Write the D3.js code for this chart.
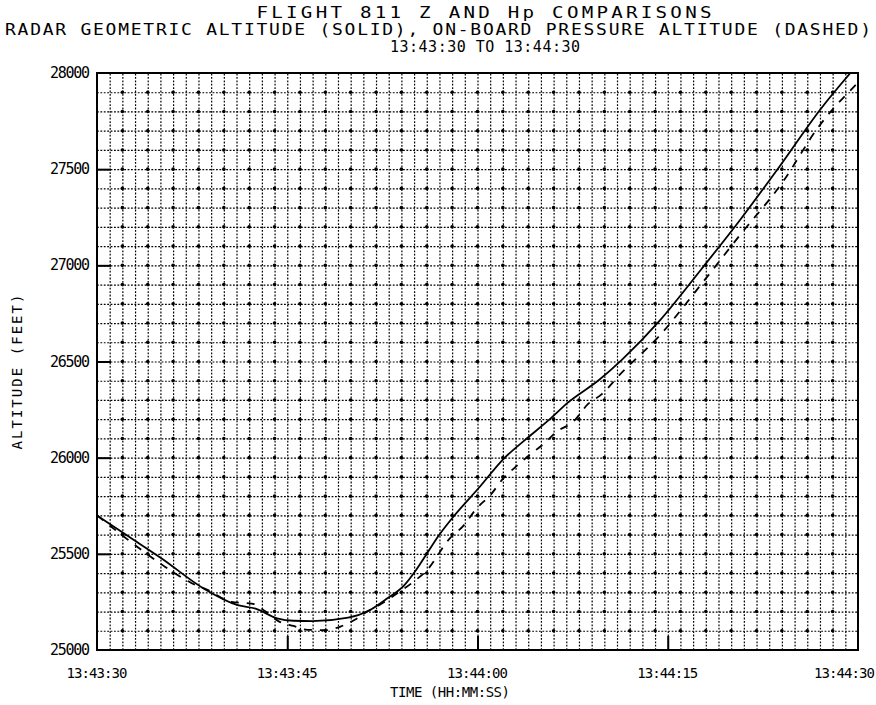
<!DOCTYPE html>
<html>
<head>
<meta charset="utf-8">
<script src="https://cdn.jsdelivr.net/npm/d3@7"></script>
<style>
  body { margin: 0; background: #fff; }
  svg text { font-family: 'DejaVu Sans Mono', 'Liberation Mono', monospace; fill: #000; }
</style>
</head>
<body>
<div id="chart"></div>
<script>
'use strict'

const titleLines = [
  'FLIGHT 811 Z AND Hp COMPARISONS',
  'RADAR GEOMETRIC ALTITUDE (SOLID), ON-BOARD PRESSURE ALTITUDE (DASHED)',
  '13:43:30 TO 13:44:30'
]

// seconds after 13:43:30
const timeTicks = [0, 15, 30, 45, 60]
const timeLabels = ['13:43:30', '13:43:45', '13:44:00', '13:44:15', '13:44:30']
const altTicks = [25000, 25500, 26000, 26500, 27000, 27500, 28000]

// radar geometric altitude (solid)
const radarT = [0, 2.5, 5.1, 8.4, 11.1, 12.5, 14.2, 15.5, 17, 19.8, 21.5, 22.9, 24.2, 25.2, 26, 27, 28,
  30.2, 32, 33.8, 35.7, 37.1, 39.6, 41.4, 44.4, 47.6, 50.7, 53.9, 57, 59.4]
const radarAlt = [25700, 25590, 25476, 25320, 25233, 25215, 25165, 25152, 25150, 25168, 25207, 25269, 25335, 25420, 25500, 25600, 25685,
  25850, 25990, 26095, 26200, 26285, 26405, 26510, 26715, 26976, 27236, 27522, 27808, 28000]

// on-board pressure altitude (dashed)
const pressT = [0, 2.5, 5.2, 7.4, 8.8, 10.6, 12.3, 13.3, 14.3, 15.5, 16.6, 18, 19.2, 20.4, 21.3, 22.3, 23.9, 25, 26,
  27.8, 28.9, 29.9, 31.1, 32, 33, 34.2, 35.2, 36.2, 37.6, 38.7, 39.8, 41.2, 44.4, 47.6, 50.7, 53.9, 57, 60]
const pressAlt = [25700, 25570, 25440, 25350, 25310, 25250, 25240, 25200, 25150, 25125, 25105, 25103, 25122, 25160, 25200, 25235, 25305, 25357, 25414,
  25579, 25647, 25734, 25812, 25890, 25952, 26019, 26071, 26133, 26190, 26278, 26330, 26430, 26638, 26898, 27158, 27418, 27730, 27950]

const width = 876
const height = 705
const plotLeft = 97
const plotRight = 858
const plotTop = 73
const plotBottom = 650

const x = d3.scaleLinear().domain([0, 60]).range([plotLeft, plotRight])
const y = d3.scaleLinear().domain([25000, 28000]).range([plotBottom, plotTop])

const svg = d3.select('#chart').append('svg')
  .attr('width', width)
  .attr('height', height)

svg.append('defs').append('clipPath')
  .attr('id', 'plot')
  .append('rect')
  .attr('x', plotLeft)
  .attr('y', plotTop)
  .attr('width', plotRight - plotLeft)
  .attr('height', plotBottom - plotTop)

// dotted grid, every second and every 100 ft
const gridX = svg.append('g')
  .attr('transform', 'translate(0,' + plotBottom + ')')
  .call(d3.axisBottom(x).tickValues(d3.range(1, 60)).tickSize(-(plotBottom - plotTop)).tickFormat(''))
const gridY = svg.append('g')
  .attr('transform', 'translate(' + plotLeft + ',0)')
  .call(d3.axisLeft(y).tickValues(d3.range(25100, 28000, 100)).tickSize(-(plotRight - plotLeft)).tickFormat(''))

;[gridX, gridY].forEach(function (g) {
  g.select('.domain').remove()
  g.selectAll('line')
    .attr('stroke', '#000')
    .attr('stroke-width', 1.2)
    .attr('stroke-dasharray', '1.8,1.6')
})

svg.append('g').selectAll('circle')
  .data(d3.cross(d3.range(2, 60, 2), d3.range(25100, 28000, 100)))
  .enter()
  .append('circle')
  .attr('cx', function (d) { return x(d[0]) })
  .attr('cy', function (d) { return y(d[1]) })
  .attr('r', 1.8)
  .attr('fill', '#000')

// frame
svg.append('rect')
  .attr('x', plotLeft)
  .attr('y', plotTop)
  .attr('width', plotRight - plotLeft)
  .attr('height', plotBottom - plotTop)
  .attr('fill', 'none')
  .attr('stroke', '#000')
  .attr('stroke-width', 2)

// inward major ticks
svg.append('g')
  .attr('transform', 'translate(0,' + plotBottom + ')')
  .call(d3.axisBottom(x).tickValues(timeTicks.slice(1, -1)).tickSize(-14).tickFormat(''))
  .call(function (g) { g.select('.domain').remove() })
  .selectAll('line').attr('stroke-width', 2)
svg.append('g')
  .attr('transform', 'translate(' + plotLeft + ',0)')
  .call(d3.axisLeft(y).tickValues(altTicks.slice(1, -1)).tickSize(-14).tickFormat(''))
  .call(function (g) { g.select('.domain').remove() })
  .selectAll('line').attr('stroke-width', 2)

// tick labels
svg.append('g').selectAll('text')
  .data(timeTicks)
  .enter()
  .append('text')
  .attr('x', function (d, i) { return i === timeTicks.length - 1 ? 875 : x(d) })
  .attr('y', 678)
  .attr('text-anchor', function (d, i) { return i === timeTicks.length - 1 ? 'end' : 'middle' })
  .attr('font-size', 14)
  .attr('textLength', 61)
  .attr('lengthAdjust', 'spacing')
  .text(function (d, i) { return timeLabels[i] })

svg.append('g').selectAll('text')
  .data(altTicks)
  .enter()
  .append('text')
  .attr('x', 90)
  .attr('y', function (d) { return y(d) + 5 })
  .attr('text-anchor', 'end')
  .attr('font-size', 15)
  .attr('textLength', 40)
  .attr('lengthAdjust', 'spacing')
  .text(function (d) { return d })

svg.append('text')
  .attr('x', 450)
  .attr('y', 697)
  .attr('text-anchor', 'middle')
  .attr('font-size', 14)
  .attr('textLength', 120)
  .attr('lengthAdjust', 'spacing')
  .text('TIME (HH:MM:SS)')

svg.append('text')
  .attr('transform', 'translate(22,372) rotate(-90)')
  .attr('text-anchor', 'middle')
  .attr('font-size', 14)
  .attr('textLength', 155)
  .attr('lengthAdjust', 'spacing')
  .text('ALTITUDE (FEET)')

// title lines: centre x, spread width, glyph size and stretch
const titleCx = [484, 438, 485]
const titleLen = [455, 866, 190]
const titleSize = [16, 15, 15]
const titleStretch = [1.2, 1.2, 1]

svg.append('g').selectAll('text')
  .data(titleLines)
  .enter()
  .append('text')
  .attr('transform', function (d, i) {
    return 'translate(' + titleCx[i] + ',' + (18 + i * 17) + ') scale(' + titleStretch[i] + ',1)'
  })
  .attr('text-anchor', 'middle')
  .attr('font-size', function (d, i) { return titleSize[i] })
  .attr('textLength', function (d, i) { return titleLen[i] / titleStretch[i] })
  .attr('lengthAdjust', 'spacing')
  .text(function (d) { return d })

// curves
const line = d3.line()
  .x(function (d) { return x(d[0]) })
  .y(function (d) { return y(d[1]) })
  .curve(d3.curveMonotoneX)

const plot = svg.append('g').attr('clip-path', 'url(#plot)')

plot.append('path')
  .datum(d3.zip(radarT, radarAlt))
  .attr('d', line)
  .attr('fill', 'none')
  .attr('stroke', '#000')
  .attr('stroke-width', 1.8)

plot.append('path')
  .datum(d3.zip(pressT, pressAlt))
  .attr('d', line)
  .attr('fill', 'none')
  .attr('stroke', '#000')
  .attr('stroke-width', 1.8)
  .attr('stroke-dasharray', '8,8')
</script>
</body>
</html>
